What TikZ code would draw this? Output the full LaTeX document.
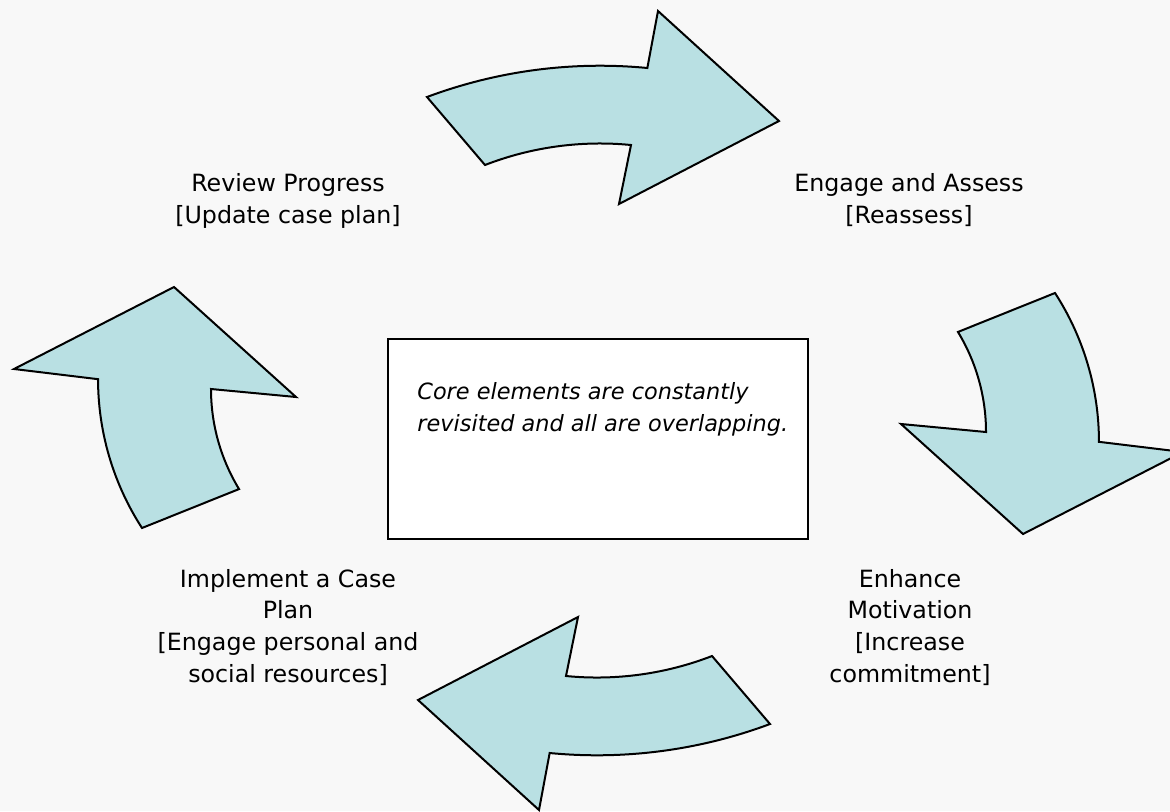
\documentclass[tikz,border=0pt]{standalone}
\usepackage{fontspec}
\setmainfont{DejaVu Sans}
\definecolor{arrowfill}{RGB}{185,224,227}
\definecolor{pagebg}{RGB}{248,248,248}

\begin{document}
\begin{tikzpicture}[x=0.75pt, y=-0.75pt,
        cyclearrow/.style={draw=black, fill=arrowfill, line width=1.5pt, line join=miter},
        stagetext/.style={align=center, inner sep=0pt, font=\fontsize{17.8pt}{23.7pt}\selectfont},
        corebox/.style={draw=black, fill=white, line width=1.3pt, minimum width=315pt, minimum height=150pt, inner sep=0pt},
        notetext/.style={align=left, inner sep=0pt, font=\fontsize{16.8pt}{23.7pt}\selectfont\itshape}
    ]
        % Background
        \fill[pagebg] (0,0) rectangle (1170,811);
        \useasboundingbox (0,0) rectangle (1170,811);
        \clip (0,0) rectangle (1170,811);

        % Top arrow
        \draw[cyclearrow] (427,97) arc[start angle=249.5, end angle=275.5, radius=494]
            -- (658,11) -- (779,121) -- (619,204) -- (631,145)
            arc[start angle=275.6, end angle=248.8, radius=318] -- cycle;

        % Right arrow
        \draw[cyclearrow] (1055,293) arc[start angle=327.1, end angle=360, radius=274]
            -- (1183,452) -- (1023,534) -- (901,424) -- (986,432)
            arc[start angle=0, end angle=-31.3, radius=192.6] -- cycle;

        % Bottom arrow
        \draw[cyclearrow] (770,724) arc[start angle=69.5, end angle=95.5, radius=494]
            -- (539,810) -- (418,700) -- (578,617) -- (566,676)
            arc[start angle=95.6, end angle=68.8, radius=318] -- cycle;

        % Left arrow
        \draw[cyclearrow] (142,528) arc[start angle=147.1, end angle=180, radius=274]
            -- (14,369) -- (174,287) -- (296,397) -- (211,389)
            arc[start angle=180, end angle=148.7, radius=192.6] -- cycle;

        % Stages (base = last line)
        \node[stagetext, anchor=base] (review) at (288,223) {Review Progress\\{[}Update case plan{]}};
        \node[stagetext, anchor=base] (engage) at (909,223) {Engage and Assess\\{[}Reassess{]}};
        \node[stagetext, anchor=base] (enhance) at (910,682) {Enhance\\Motivation\\{[}Increase\\commitment{]}};
        \node[stagetext, anchor=base] (implement) at (288,682) {Implement a Case\\Plan\\{[}Engage personal and\\social resources{]}};

        % Centre box
        \node[corebox] (core) at (598,439) {};
        \node[notetext, anchor=base west] (note) at ([xshift=22.5pt, yshift=-69.75pt]core.north west)
            {Core elements are constantly\\revisited and all are overlapping.};
    \end{tikzpicture}
\end{document}
